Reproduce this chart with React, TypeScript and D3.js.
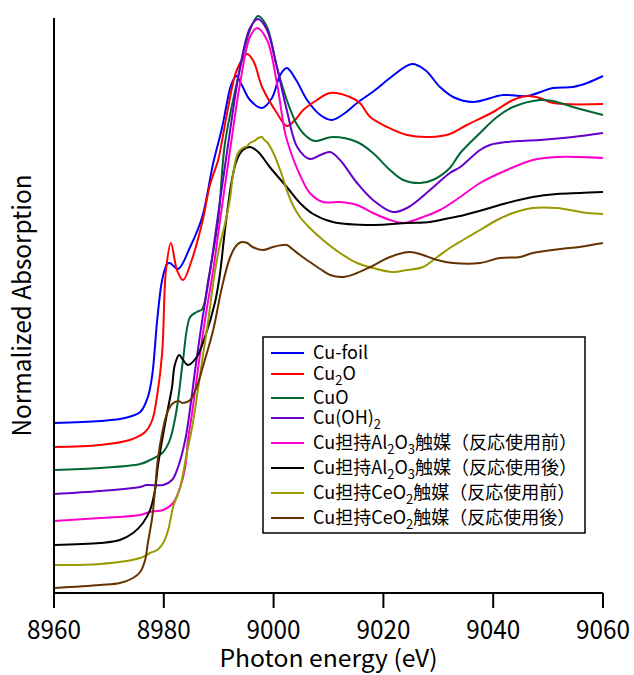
import React from "react";
import * as d3 from "d3";

// Cu K-edge XANES (normalized, stacked with offsets)
const cuFoil: [number, number][] = [
  [8960, 1.7], [8968.4, 1.72], [8972.9, 1.75], [8975.7, 1.81], [8977.1, 1.96], [8977.9, 2.18],
  [8978.8, 2.73], [8979.7, 3.13], [8980.6, 3.29], [8981.1, 3.3], [8982.6, 3.24], [8984.8, 3.46],
  [8987.0, 3.76], [8989.0, 4.3], [8990.6, 4.65], [8991.5, 4.9], [8992.2, 5.07], [8993.2, 5.17],
  [8994.2, 5.08], [8995.7, 4.93], [8997.9, 4.85], [8999.7, 4.95], [9001.2, 5.18], [9002.4, 5.25],
  [9004.1, 5.13], [9006.1, 4.93], [9008.5, 4.78], [9010.6, 4.73], [9013.0, 4.8], [9015.2, 4.9],
  [9018.5, 5.03], [9021.2, 5.15], [9025.2, 5.29], [9027.6, 5.23], [9030.3, 5.06], [9032.7, 4.96],
  [9036.3, 4.91], [9041.8, 4.98], [9046.2, 4.97], [9050.9, 5.05], [9054.5, 5.06], [9057.1, 5.1],
  [9060, 5.17],
];

const cu2o: [number, number][] = [
  [8960, 1.46], [8968.4, 1.48], [8973.8, 1.53], [8976.6, 1.61], [8977.9, 1.73], [8978.8, 1.98],
  [8979.7, 2.4], [8980.4, 3.23], [8981.3, 3.5], [8982.4, 3.23], [8983.5, 3.13], [8985.1, 3.33],
  [8987.1, 3.73], [8988.4, 4.08], [8989.9, 4.33], [8990.8, 4.58], [8991.7, 4.85], [8993.3, 5.23],
  [8995.2, 5.39], [8996.4, 5.31], [8997.9, 5.06], [9000.6, 4.8], [9002.4, 4.67], [9003.9, 4.73],
  [9005.4, 4.83], [9007.9, 4.93], [9010.3, 5.0], [9013.9, 4.96], [9015.7, 4.9], [9017.6, 4.76],
  [9020.7, 4.66], [9024.3, 4.58], [9028.5, 4.56], [9032.1, 4.59], [9035.2, 4.68], [9040.0, 4.81],
  [9043.6, 4.93], [9046.2, 4.97], [9048.5, 4.95], [9050.9, 4.9], [9060, 4.89],
];

const cuo: [number, number][] = [
  [8960, 1.23], [8968.4, 1.25], [8975.7, 1.29], [8977.5, 1.33], [8978.9, 1.37], [8979.9, 1.41],
  [8981.1, 1.53], [8982.0, 1.73], [8982.6, 1.93], [8983.5, 2.33], [8984.8, 2.76], [8986.0, 2.81],
  [8987.0, 2.84], [8988.1, 3.13], [8989.9, 3.73], [8991.1, 4.48], [8993.3, 5.1], [8995.7, 5.63],
  [8997.2, 5.77], [8998.8, 5.66], [9000.6, 5.26], [9002.4, 4.93], [9004.3, 4.68], [9006.1, 4.56],
  [9007.5, 4.52], [9010.8, 4.56], [9015.2, 4.51], [9018.1, 4.4], [9021.2, 4.23], [9023.6, 4.13],
  [9026.7, 4.1], [9029.0, 4.13], [9032.1, 4.25], [9034.0, 4.4], [9037.6, 4.6], [9040.7, 4.76],
  [9043.6, 4.86], [9048.5, 4.93], [9050.9, 4.92], [9054.5, 4.86], [9060, 4.78],
];

const cuoh2: [number, number][] = [
  [8960, 0.99], [8968.4, 1.02], [8975.7, 1.06], [8976.9, 1.08], [8979.9, 1.08], [8981.5, 1.13],
  [8982.6, 1.26], [8983.9, 1.53], [8985.0, 1.93], [8985.7, 2.23], [8987.0, 2.73], [8988.4, 3.21],
  [8989.7, 3.71], [8991.7, 4.48], [8993.9, 5.26], [8995.7, 5.65], [8997.2, 5.74], [8998.8, 5.63],
  [9000.6, 5.26], [9002.4, 4.83], [9004.3, 4.46], [9006.6, 4.34], [9008.5, 4.38], [9010.3, 4.41],
  [9012.1, 4.33], [9015.2, 4.1], [9018.1, 3.93], [9021.7, 3.81], [9024.3, 3.85], [9028.5, 4.03],
  [9032.1, 4.2], [9034.0, 4.26], [9037.6, 4.43], [9039.4, 4.48], [9042.5, 4.51], [9048.5, 4.53],
  [9054.5, 4.56], [9060, 4.6],
];

const alBefore: [number, number][] = [
  [8960, 0.72], [8968.4, 0.75], [8975.7, 0.78], [8977.5, 0.81], [8979.9, 0.83], [8981.7, 0.9],
  [8983.0, 1.06], [8983.9, 1.26], [8984.4, 1.53], [8985.1, 1.78], [8986.2, 2.23], [8987.5, 2.73],
  [8989.0, 3.23], [8990.2, 3.71], [8992.2, 4.48], [8993.9, 5.1], [8995.7, 5.56], [8997.0, 5.65],
  [8998.8, 5.53], [9000.6, 5.1], [9002.1, 4.6], [9003.0, 4.43], [9004.8, 4.18], [9006.6, 4.0],
  [9009.0, 3.91], [9012.1, 3.91], [9015.2, 3.88], [9018.1, 3.8], [9021.2, 3.73], [9023.6, 3.7],
  [9027.2, 3.76], [9030.3, 3.83], [9034.0, 3.96], [9037.6, 4.1], [9042.5, 4.23], [9047.2, 4.33],
  [9051.6, 4.36], [9055.8, 4.36], [9060, 4.35],
];

const alAfter: [number, number][] = [
  [8960, 0.48], [8968.4, 0.5], [8972.0, 0.53], [8974.4, 0.6], [8976.2, 0.7], [8977.5, 0.83],
  [8978.4, 1.03], [8978.9, 1.26], [8979.7, 1.53], [8980.6, 1.8], [8981.5, 2.06], [8982.0, 2.28],
  [8982.8, 2.38], [8983.5, 2.33], [8984.4, 2.28], [8986.0, 2.36], [8987.5, 2.56], [8989.3, 2.9],
  [8990.2, 3.18], [8991.1, 3.61], [8992.4, 4.13], [8993.3, 4.33], [8994.4, 4.43], [8995.7, 4.46],
  [8997.2, 4.41], [8999.3, 4.26], [9002.4, 4.06], [9004.8, 3.9], [9007.2, 3.79], [9010.8, 3.71],
  [9018.1, 3.68], [9024.3, 3.7], [9028.5, 3.71], [9032.1, 3.75], [9034.0, 3.77], [9038.1, 3.83],
  [9042.5, 3.9], [9047.2, 3.96], [9051.6, 3.99], [9055.8, 4.0], [9060, 4.01],
];

const ceBefore: [number, number][] = [
  [8960, 0.28], [8968.4, 0.29], [8975.7, 0.35], [8977.5, 0.4], [8978.8, 0.43], [8979.9, 0.5],
  [8980.8, 0.63], [8981.7, 0.86], [8983.0, 1.06], [8984.2, 1.4], [8985.3, 1.7], [8986.6, 2.18],
  [8988.1, 2.73], [8989.3, 3.21], [8990.2, 3.48], [8991.1, 3.68], [8992.1, 3.96], [8992.6, 4.18],
  [8993.5, 4.4], [8994.4, 4.45], [8995.2, 4.47], [8995.7, 4.5], [8996.5, 4.52], [8997.2, 4.55],
  [8997.9, 4.56], [8998.3, 4.53], [8998.8, 4.51], [8999.7, 4.43], [9001.2, 4.23], [9002.4, 4.03],
  [9003.5, 3.88], [9004.8, 3.76], [9006.6, 3.65], [9009.0, 3.53], [9012.1, 3.4], [9015.2, 3.3],
  [9018.1, 3.25], [9021.7, 3.21], [9024.3, 3.23], [9027.2, 3.26], [9029.8, 3.36], [9032.1, 3.45],
  [9034.5, 3.53], [9037.6, 3.63], [9040.7, 3.73], [9043.6, 3.8], [9047.2, 3.85], [9051.6, 3.85],
  [9057.1, 3.8], [9060, 3.79],
];

const ceAfter: [number, number][] = [
  [8960, 0.05], [8968.4, 0.08], [8972.0, 0.1], [8974.4, 0.15], [8975.7, 0.21], [8976.6, 0.33],
  [8977.1, 0.5], [8977.9, 0.76], [8978.4, 1.03], [8978.9, 1.33], [8979.7, 1.6], [8980.6, 1.8],
  [8981.5, 1.89], [8982.6, 1.92], [8983.5, 1.9], [8984.8, 1.93], [8986.0, 2.06], [8987.1, 2.26],
  [8989.0, 2.63], [8990.6, 3.06], [8992.1, 3.36], [8993.3, 3.48], [8994.2, 3.51], [8995.2, 3.5],
  [8996.2, 3.46], [8998.1, 3.43], [8999.9, 3.46], [9002.4, 3.48], [9003.4, 3.44], [9004.8, 3.38],
  [9006.6, 3.31], [9008.5, 3.24], [9010.3, 3.18], [9012.6, 3.16], [9015.2, 3.2], [9017.6, 3.26],
  [9021.2, 3.36], [9024.8, 3.41], [9027.2, 3.38], [9029.8, 3.33], [9032.7, 3.3], [9037.6, 3.3],
  [9041.2, 3.35], [9044.9, 3.36], [9047.2, 3.4], [9052.2, 3.44], [9055.8, 3.46], [9060, 3.5],
];

// "_n" marks a subscript digit
const seriesNames = [
  "Cu-foil",
  "Cu_2O",
  "CuO",
  "Cu(OH)_2",
  "Cu担持Al_2O_3触媒（反応使用前）",
  "Cu担持Al_2O_3触媒（反応使用後）",
  "Cu担持CeO_2触媒（反応使用前）",
  "Cu担持CeO_2触媒（反応使用後）",
];
const seriesColors = ["#0000ff", "#ff0000", "#006633", "#6600cc", "#ff00cc", "#000000", "#999900", "#663300"];
const seriesData = [cuFoil, cu2o, cuo, cuoh2, alBefore, alAfter, ceBefore, ceAfter];

const xTicks = [8960, 8980, 9000, 9020, 9040, 9060];

const FONT = "'Noto Sans CJK JP', 'Noto Sans', sans-serif";
const legendRowY = [353, 374, 398, 418, 443, 468, 493, 518];

function Label({ text, x, y }: { text: string; x: number; y: number }) {
  const parts = text.split(/(_\d)/).filter((p) => p.length > 0);
  let lowered = false;
  return (
    <text x={x} y={y} fontSize={18} fontFamily={FONT} fill="#000">
      {parts.map((p, i) => {
        if (p.startsWith("_")) {
          const dy = lowered ? 0 : 5;
          lowered = true;
          return (
            <tspan key={i} dy={dy} fontSize={13}>
              {p.slice(1)}
            </tspan>
          );
        }
        const dy = lowered ? -5 : 0;
        lowered = false;
        return (
          <tspan key={i} dy={dy}>
            {p}
          </tspan>
        );
      })}
    </text>
  );
}

export default function App() {
  const width = 634;
  const height = 675;
  const left = 54;
  const right = 603;
  const top = 18;
  const bottom = 593;

  const x = d3.scaleLinear().domain([8960, 9060]).range([left, right]);
  const y = d3.scaleLinear().domain([0, 5.75]).range([bottom, top]);

  const line = d3
    .line<[number, number]>()
    .x((d) => x(d[0]))
    .y((d) => y(d[1]))
    .curve(d3.curveCatmullRom.alpha(0.5));

  return (
    <svg
      width={width}
      height={height}
      style={{ position: "absolute", left: 0, top: 0, background: "#fff" }}
    >
      <rect width={width} height={height} fill="#fff" />
      {seriesData.map((d, i) => (
        <path
          key={i}
          d={line(d) || ""}
          fill="none"
          stroke={seriesColors[i]}
          strokeWidth={2}
          strokeLinejoin="round"
        />
      ))}

      {/* axes */}
      <line x1={left} x2={left} y1={top} y2={bottom} stroke="#000" strokeWidth={2} />
      <line x1={left} x2={right} y1={bottom} y2={bottom} stroke="#000" strokeWidth={2} />
      {xTicks.map((t) => (
        <g key={t}>
          <line x1={x(t)} x2={x(t)} y1={bottom} y2={bottom + 15} stroke="#000" strokeWidth={2} />
          <text
            x={x(t)}
            y={639}
            textAnchor="middle"
            fontSize={26}
            fontFamily={FONT}
            textLength={54}
            lengthAdjust="spacingAndGlyphs"
          >
            {t}
          </text>
        </g>
      ))}
      <text
        x={(left + right) / 2}
        y={667}
        textAnchor="middle"
        fontSize={24}
        fontFamily={FONT}
        textLength={218}
        lengthAdjust="spacingAndGlyphs"
      >
        Photon energy (eV)
      </text>
      <text
        transform={`translate(31, ${(top + bottom) / 2}) rotate(-90)`}
        textAnchor="middle"
        fontSize={25}
        fontFamily={FONT}
        textLength={262}
        lengthAdjust="spacingAndGlyphs"
      >
        Normalized Absorption
      </text>

      {/* legend */}
      <rect x={263} y={337} width={322} height={196} fill="#fff" stroke="#000" strokeWidth={1.5} />
      {seriesNames.map((name, i) => (
        <g key={name}>
          <line x1={271} x2={304} y1={legendRowY[i]} y2={legendRowY[i]} stroke={seriesColors[i]} strokeWidth={2} />
          <Label text={name} x={313} y={legendRowY[i] + 6} />
        </g>
      ))}
    </svg>
  );
}
